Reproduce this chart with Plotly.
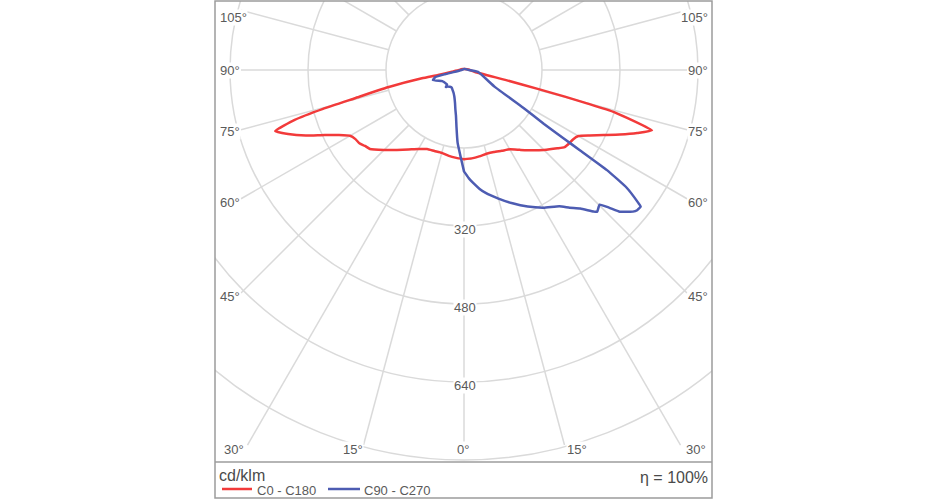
import numpy as np
import plotly.graph_objects as go

# ---------------- data: luminous intensity (cd/klm) vs gamma angle (deg) ----------------
# C0 plane (drawn on the right half)
gamma_c0 = [0, 5, 10, 15, 20, 25, 30, 35, 40, 45, 50, 52.5, 55, 57.5, 60, 62.5, 65, 67.5, 70, 72.2,
            74.3, 74.8, 75.2, 75.6, 76.5, 80, 90, 105, 135, 180]
i_c0 = [183, 182, 180, 178, 179, 183, 188, 200, 215, 232, 250, 260, 263, 265, 271, 291, 316, 346, 378, 405,
        321, 263, 214, 158, 87, 23, 12, 6, 3, 2]

# C180 plane (drawn on the left half)
gamma_c180 = [0, 5, 10, 15, 20, 25, 30, 35, 40, 45, 50, 52.5, 55, 57.5, 60, 62.5, 65, 67.5, 70, 72.1,
              73.6, 74.6, 75.5, 77.2, 78.8, 79.1, 82, 90, 105, 135, 180]
i_c180 = [183, 181, 179, 176, 177, 179, 187, 199, 214, 232, 252, 256, 262, 264, 270, 289, 315, 351, 384, 407,
          362, 300, 231, 160, 88, 54, 25, 10, 6, 3, 2]

# C90 plane (drawn on the right half)
gamma_c90 = [0, 2.5, 5, 7.5, 10, 15, 20, 25, 30, 35, 37.5, 40, 42.5, 43.2, 45.2, 46.5, 47.7, 49, 50, 51, 52.3,
             52.7, 54.1, 55, 55.3, 55.5, 56, 57.5, 61.3, 82, 90, 105, 135, 180]
i_c90 = [208, 222, 234, 246, 256, 273, 291, 309, 326, 341, 356, 371, 394, 399, 392, 410, 432, 443, 452, 457, 458,
         449, 412, 358, 289, 250, 198, 144, 72, 29, 10, 5, 3, 2]

# C270 plane (drawn on the left half)
gamma_c270 = [0, 2.5, 5, 7.5, 10, 12.5, 15, 20, 25, 30, 35, 40, 45, 47, 49, 59, 63, 72, 76, 77.5, 78.5,
              82, 90, 105, 135, 180]
i_c270 = [208, 175, 150, 118, 95, 82, 71, 58, 51, 47, 44, 45, 48, 51, 46, 48, 50, 67, 61, 40, 22,
          10, 5, 3, 2, 2]

series_names = ["C0 - C180", "C90 - C270"]
series_colors = ["#f23a3a", "#4d5cb2"]

grid_radii = [160, 320, 480, 640, 800]
radius_tick_labels = ["320", "480", "640"]
radius_tick_values = [320, 480, 640]
angle_step = 15
unit_label = "cd/klm"
efficiency_label = "η = 100%"

# ---------------- geometry of the frame (pixels) ----------------
W, H = 930, 500
BOX_L, BOX_R, BOX_T, PLOT_B, BOX_B = 215, 712, 1, 462, 498
CX, CY = 464, 70            # pole of the diagram in pixels
K = 160 / 78.0              # cd/klm per pixel

xr = [-(CX - BOX_L) * K, (BOX_R - CX) * K]
yr = [-(PLOT_B - CY) * K, (CY - BOX_T) * K]


def pxp(px, py):
    return (px - BOX_L) / (BOX_R - BOX_L), (PLOT_B - py) / (PLOT_B - BOX_T)


def polar_half(gam, inten, side):
    g = np.radians(np.asarray(gam, float))
    r = np.asarray(inten, float)
    return side * r * np.sin(g), -r * np.cos(g)


fig = go.Figure()

GRID = "#dadada"
shapes = []
for r in grid_radii:
    shapes.append(dict(type="circle", xref="x", yref="y", x0=-r, y0=-r, x1=r, y1=r,
                       line=dict(color=GRID, width=1.5), layer="below"))

# radial lines every 15 deg, from the first circle out to an inner frame
lim_x = (687 - CX) * K
lim_y = (445 - CY) * K
for side in (1, -1):
    for a in range(0, 181, angle_step):
        if side == -1 and a in (0, 180):
            continue
        g = np.radians(a)
        s, c = np.sin(g), np.cos(g)
        t = 3000.0
        if s > 1e-9:
            t = min(t, lim_x / s)
        if c > 1e-9:
            t = min(t, lim_y / c)
        r0 = grid_radii[0]
        shapes.append(dict(type="line", xref="x", yref="y",
                           x0=side * r0 * s, y0=-r0 * c, x1=side * t * s, y1=-t * c,
                           line=dict(color=GRID, width=1.5), layer="below"))

# curves
pairs = [((gamma_c180, i_c180), (gamma_c0, i_c0)), ((gamma_c270, i_c270), (gamma_c90, i_c90))]
for ((gl, il), (gr, ir_)), name, col in zip(pairs, series_names, series_colors):
    xl, yl = polar_half(gl, il, -1)
    xrr, yrr = polar_half(gr, ir_, 1)
    x = np.concatenate([xl[::-1], xrr])
    y = np.concatenate([yl[::-1], yrr])
    fig.add_trace(go.Scatter(x=x, y=y, mode="lines", name=name,
                             line=dict(color=col, width=2.5, shape="spline", smoothing=0.4),
                             hoverinfo="skip"))

# frame
FRAME = "#9c9c9c"
x0p, y0p = pxp(BOX_L, BOX_B)
x1p, y1p = pxp(BOX_R, BOX_T)
shapes.append(dict(type="rect", xref="paper", yref="paper", x0=x0p, y0=y0p, x1=x1p, y1=y1p,
                   line=dict(color=FRAME, width=1.5)))
shapes.append(dict(type="line", xref="paper", yref="paper", x0=0, y0=0, x1=1, y1=0,
                   line=dict(color=FRAME, width=1.5)))

# legend samples
for (lx0, lx1), col in zip([(222, 252), (328, 360)], series_colors):
    a0, b0 = pxp(lx0, 489)
    a1, _ = pxp(lx1, 489)
    shapes.append(dict(type="line", xref="paper", yref="paper", x0=a0, y0=b0, x1=a1, y1=b0,
                       line=dict(color=col, width=2.5)))

FONT = "Liberation Sans, Arial, sans-serif"
TXT = "#5a5a5a"
ann = []


def label(text, px, py, xanchor="center", size=13, color=TXT, bg=None):
    a, b = pxp(px, py)
    d = dict(text=text, x=a, y=b, xref="paper", yref="paper", xanchor=xanchor, yanchor="middle",
             showarrow=False, font=dict(family=FONT, size=size, color=color), borderpad=0)
    if bg:
        d["bgcolor"] = bg
    ann.append(d)


side_angles = [105, 90, 75, 60, 45]
side_label_y = [17, 70, 131, 202, 297]
for a, py in zip(side_angles, side_label_y):
    label(f"{a}°", 219, py, "left", bg="white")
    label(f"{a}°", 709, py, "right", bg="white")

bottom_angles = [30, 15, 0, 15, 30]
bottom_x = [223, 353, 463, 577, 707]
bottom_anchor = ["left", "center", "center", "center", "right"]
for a, px, xa in zip(bottom_angles, bottom_x, bottom_anchor):
    label(f"{a}°", px, 449, xa, bg="white")

for txt, rv in zip(radius_tick_labels, radius_tick_values):
    label(txt, CX + 1, CY + rv / K + 3, "center", bg="white")

label(unit_label, 218, 476, "left", size=16, color="#4a4a4a")
label(efficiency_label, 709, 477, "right", size=16, color="#4a4a4a")
label(series_names[0], 256, 490, "left", size=13, color="#5a5a5a")
label(series_names[1], 363, 490, "left", size=13, color="#5a5a5a")

fig.update_layout(
    width=W, height=H,
    margin=dict(l=BOX_L, r=W - BOX_R, t=BOX_T, b=H - PLOT_B),
    paper_bgcolor="white", plot_bgcolor="white",
    showlegend=False,
    xaxis=dict(range=xr, visible=False, fixedrange=True),
    yaxis=dict(range=yr, visible=False, fixedrange=True),
    shapes=shapes, annotations=ann,
)

fig.write_html("out.html", config={"displayModeBar": False},
               post_script="document.body.style.margin='0';document.body.style.overflow='hidden';")
